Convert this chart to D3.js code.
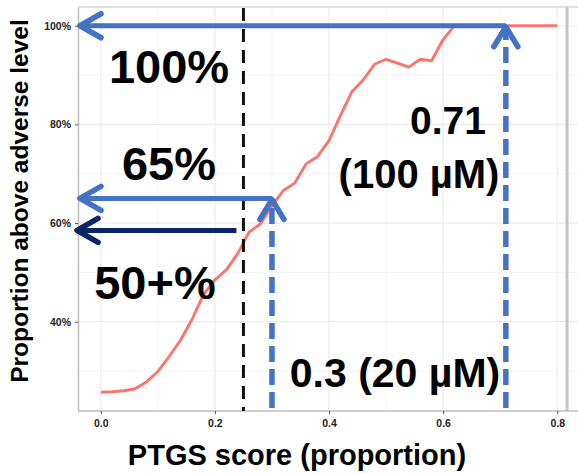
<!DOCTYPE html>
<html>
<head>
<meta charset="utf-8">
<script src="https://cdn.jsdelivr.net/npm/d3@7"></script>
<style>
  html, body { margin: 0; padding: 0; background: #fff; }
  svg { display: block; font-family: "Liberation Sans", Arial, Helvetica, sans-serif; }
</style>
</head>
<body>
<svg id="chart" width="578" height="473"></svg>
<script>
// PTGS score (proportion) on the x axis
const ptgsScore = [0.00, 0.02, 0.04, 0.06, 0.08, 0.10, 0.12, 0.14, 0.16, 0.18,
                   0.20, 0.22, 0.24, 0.26, 0.28, 0.30, 0.32, 0.34, 0.36, 0.38,
                   0.40, 0.42, 0.44, 0.46, 0.48, 0.50, 0.52, 0.54, 0.56, 0.58,
                   0.60, 0.62, 0.64, 0.66, 0.68, 0.70, 0.72, 0.74, 0.76, 0.78, 0.80];
// proportion of samples above the adverse level
const proportionAbove = [0.257, 0.258, 0.260, 0.264, 0.278, 0.299, 0.330, 0.363, 0.405, 0.455,
                         0.485, 0.505, 0.538, 0.582, 0.598, 0.635, 0.666, 0.681, 0.720, 0.735,
                         0.767, 0.818, 0.866, 0.890, 0.922, 0.932, 0.924, 0.916, 0.932, 0.929,
                         0.972, 1.000, 1.000, 1.000, 1.000, 1.000, 1.000, 1.000, 1.000, 1.000, 1.000];

const xTicks = [0.0, 0.2, 0.4, 0.6, 0.8];
const xMinor = [0.1, 0.3, 0.5, 0.7];
const yTicks = [0.4, 0.6, 0.8, 1.0];
const yMinor = [0.3, 0.5, 0.7, 0.9];

// threshold score (black dashed line)
const thresholdScore = 0.25;
const markScores = [0.3, 0.71];
const markLevels = [0.65, 1.0];
// proportion pointed at by the dark arrow
const floorLevel = 0.585;

const svg = d3.select("#chart");
const pLeft = 78, pRight = 580, pTop = 7, pBottom = 411;

const x = d3.scaleLinear().domain([-0.04, 0.84]).range([pLeft, pRight]);
const y = d3.scaleLinear().domain([0.219, 1.038]).range([pBottom, pTop]);

// panel grid
const grid = svg.append("g");
grid.selectAll(".vmin").data(xMinor).join("line")
  .attr("x1", d => x(d)).attr("x2", d => x(d)).attr("y1", pTop).attr("y2", pBottom)
  .attr("stroke", "#f4f4f4").attr("stroke-width", 1);
grid.selectAll(".hmin").data(yMinor).join("line")
  .attr("x1", pLeft).attr("x2", pRight).attr("y1", d => y(d)).attr("y2", d => y(d))
  .attr("stroke", "#f4f4f4").attr("stroke-width", 1);
grid.selectAll(".vmaj").data(xTicks).join("line")
  .attr("x1", d => x(d)).attr("x2", d => x(d)).attr("y1", pTop).attr("y2", pBottom)
  .attr("stroke", "#ececec").attr("stroke-width", 1.2);
grid.selectAll(".hmaj").data(yTicks).join("line")
  .attr("x1", pLeft).attr("x2", pRight).attr("y1", d => y(d)).attr("y2", d => y(d))
  .attr("stroke", "#ececec").attr("stroke-width", 1.2);

// panel border
svg.append("line").attr("x1", pLeft).attr("x2", 578).attr("y1", pTop).attr("y2", pTop)
  .attr("stroke", "#d6d6d6").attr("stroke-width", 1.5);
svg.append("line").attr("x1", 567).attr("x2", 567).attr("y1", pTop).attr("y2", pBottom)
  .attr("stroke", "#c4c4c4").attr("stroke-width", 3);

// axes
const xAxis = svg.append("g").attr("transform", `translate(0,${pBottom})`)
  .call(d3.axisBottom(x).tickValues(xTicks).tickFormat(d3.format(".1f")).tickSize(3).tickSizeOuter(0));
const yAxis = svg.append("g").attr("transform", `translate(${pLeft},0)`)
  .call(d3.axisLeft(y).tickValues(yTicks).tickFormat(d3.format(".0%")).tickSize(3).tickSizeOuter(0));
[xAxis, yAxis].forEach(a => {
  a.select(".domain").attr("stroke", "#bdbdbd").attr("stroke-width", 1.5);
  a.selectAll(".tick line").attr("stroke", "#555");
  a.selectAll(".tick text").attr("fill", "#222").attr("font-size", 10.5)
    .attr("font-weight", "bold").attr("font-family", "Liberation Sans, Arial, sans-serif");
});
xAxis.select(".domain").attr("d", `M${pLeft},0H578`);
xAxis.selectAll(".tick text").attr("dy", "0.95em");
yAxis.selectAll(".tick text").attr("dx", "-1");

// curve
const line = d3.line().x((d, i) => x(ptgsScore[i])).y(d => y(d));
svg.append("path").datum(proportionAbove)
  .attr("d", line).attr("fill", "none")
  .attr("stroke", "#F8766D").attr("stroke-width", 2.9).attr("stroke-linejoin", "round");

// threshold line
svg.append("line")
  .attr("x1", x(thresholdScore)).attr("x2", x(thresholdScore))
  .attr("y1", pTop + 1).attr("y2", pBottom)
  .attr("stroke", "#111").attr("stroke-width", 3).attr("stroke-dasharray", "13,8");

const blue = "#4472C4", navy = "#0B2466";

function head(g, tipX, tipY, dir, color) {
  // open chevron arrowhead; dir "left" or "up"
  const p = dir === "left"
    ? `M${tipX + 21},${tipY - 12}L${tipX},${tipY}L${tipX + 21},${tipY + 12}`
    : `M${tipX - 12},${tipY + 20}L${tipX},${tipY}L${tipX + 12},${tipY + 20}`;
  g.append("path").attr("d", p).attr("fill", "none").attr("stroke", color)
    .attr("stroke-width", 5.5).attr("stroke-linecap", "round").attr("stroke-linejoin", "round");
}

const ann = svg.append("g");
// vertical dashed arrows from the axis up to the curve level
markScores.forEach((s, i) => {
  ann.append("line")
    .attr("x1", x(s)).attr("x2", x(s))
    .attr("y1", pBottom - 3).attr("y2", y(markLevels[i]) + 6)
    .attr("stroke", blue).attr("stroke-width", 5.5).attr("stroke-dasharray", "16,7");
});
// horizontal arrows from each mark to the y axis
markScores.forEach((s, i) => {
  ann.append("line")
    .attr("x1", x(s)).attr("x2", pLeft + 3)
    .attr("y1", y(markLevels[i])).attr("y2", y(markLevels[i]))
    .attr("stroke", blue).attr("stroke-width", 5);
  head(ann, pLeft + 2, y(markLevels[i]), "left", blue);
  head(ann, x(s), y(markLevels[i]) + 1, "up", blue);
});
// dark arrow at the threshold floor
ann.append("line")
  .attr("x1", x(thresholdScore) - 7).attr("x2", pLeft + 1)
  .attr("y1", y(floorLevel)).attr("y2", y(floorLevel))
  .attr("stroke", navy).attr("stroke-width", 5);
head(ann, pLeft - 1, y(floorLevel), "left", navy);

// big labels
const labels = [
  { t: "100%", x: 169, y: 83, s: 47, a: "middle" },
  { t: "65%", x: 169, y: 180, s: 47, a: "middle" },
  { t: "50+%", x: 155, y: 299, s: 47, a: "middle" },
  { t: "0.71", x: 448, y: 134, s: 39, a: "middle" },
  { t: "(100 µM)", x: 419, y: 188, s: 40, a: "middle" },
  { t: "0.3 (20 µM)", x: 395, y: 387, s: 41, a: "middle" }
];
svg.append("g").selectAll("text").data(labels).join("text")
  .attr("x", d => d.x).attr("y", d => d.y)
  .attr("text-anchor", d => d.a)
  .attr("font-size", d => d.s).attr("font-weight", "bold").attr("fill", "#000")
  .text(d => d.t);

// axis titles
svg.append("text").attr("x", 297).attr("y", 465).attr("text-anchor", "middle")
  .attr("font-size", 29).attr("font-weight", "bold").text("PTGS score (proportion)");
svg.append("text").attr("transform", "translate(28,201) rotate(-90)")
  .attr("text-anchor", "middle").attr("font-size", 24.5).attr("font-weight", "bold")
  .text("Proportion above adverse level");
</script>
</body>
</html>
